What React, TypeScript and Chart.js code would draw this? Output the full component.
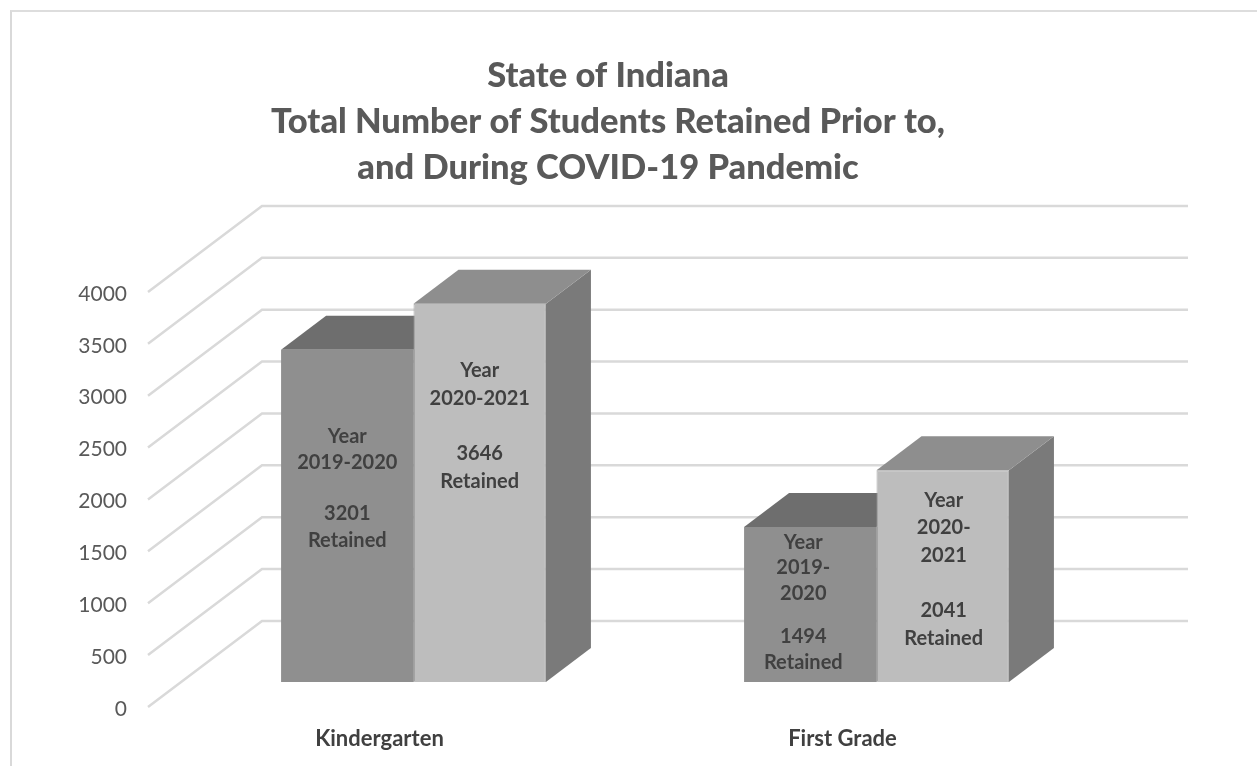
import React, { useEffect, useRef } from "react";
import { Chart, registerables } from "chart.js";

Chart.register(...registerables);

const categories = ["Kindergarten", "First Grade"];
const seriesNames = ["Year 2019-2020", "Year 2020-2021"];
const retained2019 = [3201, 1494];
const retained2020 = [3646, 2041];
const yearLines2019 = [["Year", "2019-2020"], ["Year", "2019-", "2020"]];
const yearLines2020 = [["Year", "2020-2021"], ["Year", "2020-", "2021"]];
const titleLines = [
  "State of Indiana",
  "Total Number of Students Retained Prior to,",
  "and During COVID-19 Pandemic",
];

// view geometry of the pseudo-3D projection
const WALL_DX = 114;
const WALL_DY = -86;
const BAR_SHIFT_X = 34;
const BAR_SHIFT_Y = -25;
const BAR_DX = 45;
const BAR_DY = -34;
const FONT = "Lato, Carlito, Calibri, sans-serif";

// label line offsets below the top of each bar: [dataset][category]
const labelOffsets = [
  [[87, 113, 164, 191], [16, 41, 67, 110, 136]],
  [[67, 95, 150, 178], [30, 57, 85, 140, 168]],
];
const labelShiftX = [[0, -7], [0, 1]];

const faceColors = [
  { top: "#6e6e6e", side: "#6a6a6a" },
  { top: "#8e8e8e", side: "#7a7a7a" },
];

const poly = (ctx: CanvasRenderingContext2D, pts: number[][], fill: string) => {
  ctx.beginPath();
  pts.forEach((p, i) => (i ? ctx.lineTo(p[0], p[1]) : ctx.moveTo(p[0], p[1])));
  ctx.closePath();
  ctx.fillStyle = fill;
  ctx.fill();
};

const wallPlugin = {
  id: "wall",
  beforeDatasetsDraw(chart: any) {
    const { ctx, chartArea, scales } = chart;
    ctx.save();
    ctx.strokeStyle = "#d9d9d9";
    ctx.lineWidth = 2.5;
    scales.y.ticks.forEach((t: any) => {
      const y = scales.y.getPixelForValue(t.value);
      ctx.beginPath();
      ctx.moveTo(chartArea.left, y);
      ctx.lineTo(chartArea.left + WALL_DX, y + WALL_DY);
      ctx.lineTo(chartArea.right + WALL_DX, y + WALL_DY);
      ctx.stroke();
    });
    ctx.restore();
  },
};

const boxPlugin = {
  id: "box",
  beforeDatasetsDraw(chart: any) {
    const { ctx } = chart;
    chart.data.datasets.forEach((_: any, di: number) => {
      chart.getDatasetMeta(di).data.forEach((bar: any) => {
        const half = bar.width / 2;
        const l = bar.x - half + BAR_SHIFT_X;
        const r = bar.x + half + BAR_SHIFT_X;
        const t = bar.y + BAR_SHIFT_Y;
        const b = bar.base + BAR_SHIFT_Y;
        const c = faceColors[di];
        poly(ctx, [[r, t], [r + BAR_DX, t + BAR_DY], [r + BAR_DX, b + BAR_DY], [r, b]], c.side);
        poly(ctx, [[l, t], [l + BAR_DX, t + BAR_DY], [r + BAR_DX, t + BAR_DY], [r, t]], c.top);
      });
    });
    ctx.save();
    ctx.translate(BAR_SHIFT_X, BAR_SHIFT_Y);
  },
  afterDatasetsDraw(chart: any) {
    const { ctx } = chart;
    ctx.restore();
    ctx.save();
    ctx.fillStyle = "#404040";
    ctx.font = `bold 20px ${FONT}`;
    ctx.textAlign = "center";
    ctx.textBaseline = "middle";
    const valueSets = [retained2019, retained2020];
    const yearSets = [yearLines2019, yearLines2020];
    valueSets.forEach((vals, di) => {
      chart.getDatasetMeta(di).data.forEach((bar: any, ci: number) => {
        const lines = [...yearSets[di][ci], String(vals[ci]), "Retained"];
        const x = bar.x + BAR_SHIFT_X + labelShiftX[di][ci];
        const top = bar.y + BAR_SHIFT_Y;
        lines.forEach((line, i) => ctx.fillText(line, x, top + labelOffsets[di][ci][i]));
      });
    });
    ctx.restore();
  },
};

export default function App() {
  const ref = useRef<HTMLCanvasElement>(null);
  useEffect(() => {
    const chart = new Chart(ref.current!, {
      type: "bar",
      data: {
        labels: categories,
        datasets: [
          {
            label: seriesNames[0],
            data: retained2019,
            backgroundColor: "#8f8f8f",
            clip: false,
          } as any,
          {
            label: seriesNames[1],
            data: retained2020,
            backgroundColor: "#bdbdbd",
            borderColor: "#a9a9a9",
            borderWidth: 1,
            clip: false,
          } as any,
        ],
      },
      options: {
        responsive: false,
        animation: false,
        devicePixelRatio: 1,
        layout: { padding: { left: 0, right: 41, top: 0, bottom: 0 } },
        categoryPercentage: 0.572,
        barPercentage: 1,
        plugins: {
          legend: { display: false },
          tooltip: { enabled: false },
          title: {
            display: true,
            text: titleLines,
            color: "#595959",
            font: { family: FONT, size: 34.5, weight: "900", lineHeight: 1.335 },
            padding: { top: 53, bottom: 100.8 },
          },
        },
        scales: {
          x: {
            grid: { display: false },
            border: { display: false },
            ticks: {
              color: "#404040",
              font: { family: FONT, size: 22, weight: "bold" },
              padding: 11,
              maxRotation: 0,
            },
            afterFit: (s: any) => {
              s.height = 59;
            },
          },
          y: {
            min: 0,
            max: 4000,
            grid: { display: false, drawTicks: false },
            border: { display: false },
            ticks: {
              stepSize: 500,
              color: "#595959",
              font: { family: FONT, size: 21 },
              padding: 21,
              labelOffset: 2,
              callback: (v: any) => String(v),
            },
            afterFit: (s: any) => {
              s.width = 148;
            },
          },
          spacer: {
            position: "right",
            grid: { display: false, drawTicks: false },
            border: { display: false },
            ticks: { display: false },
            afterFit: (s: any) => {
              s.width = 142;
            },
          },
        },
      } as any,
      plugins: [wallPlugin, boxPlugin],
    });
    return () => chart.destroy();
  }, []);
  return (
    <div style={{ position: "fixed", left: 0, top: 0, width: 1257, height: 766, overflow: "hidden", background: "#fff" }}>
      <div style={{ position: "absolute", left: 10, top: 10, width: 1300, height: 800, borderTop: "2px solid #dddddd", borderLeft: "2px solid #d9d9d9" }} />
      <canvas ref={ref} width={1257} height={766} style={{ position: "absolute", left: 0, top: 0 }} />
    </div>
  );
}
